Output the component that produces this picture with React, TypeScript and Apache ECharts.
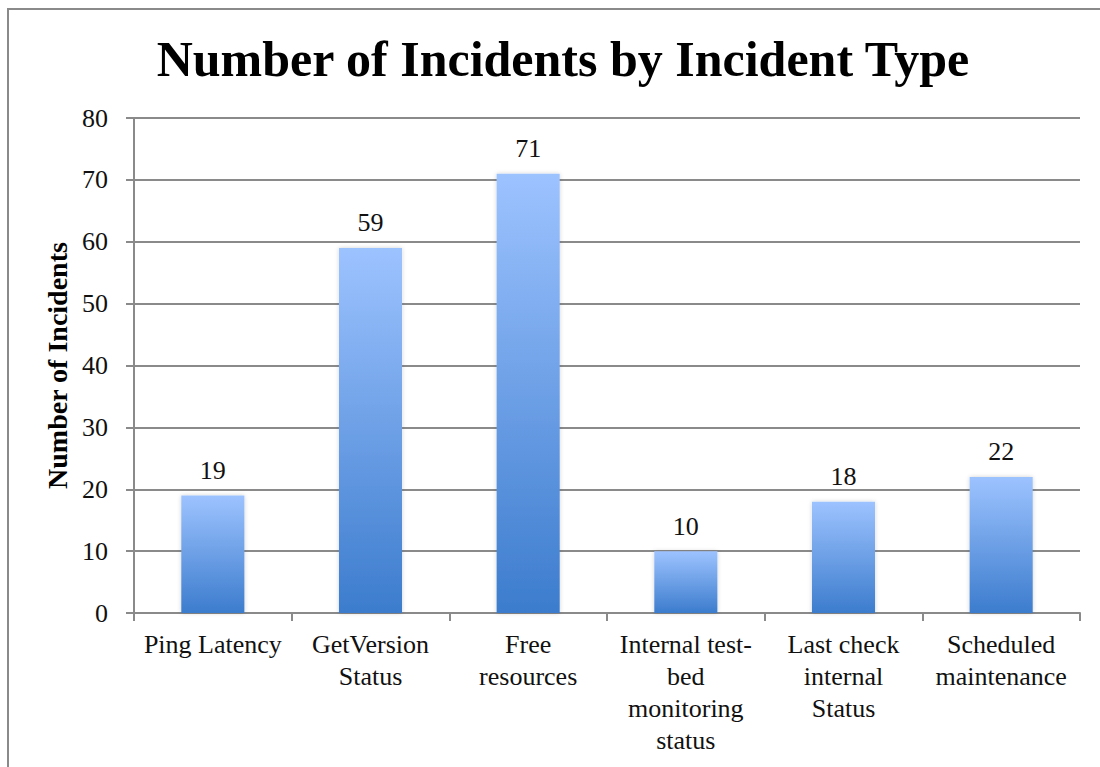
import React, { useEffect, useRef } from "react";
import * as echarts from "echarts";

const categories = [
  "Ping Latency",
  "GetVersion\nStatus",
  "Free\nresources",
  "Internal test-\nbed\nmonitoring\nstatus",
  "Last check\ninternal\nStatus",
  "Scheduled\nmaintenance",
];
const incidents = [19, 59, 71, 10, 18, 22];
const yTicks = { min: 0, max: 80, interval: 10 };

const SERIF = "'Liberation Serif', 'DejaVu Serif', serif";

export default function App() {
  const ref = useRef<HTMLDivElement>(null);

  useEffect(() => {
    if (!ref.current) return;
    const chart = echarts.init(ref.current, null, { renderer: "svg" });
    chart.setOption({
      animation: false,
      backgroundColor: "#ffffff",
      title: {
        text: "Number of Incidents by Incident Type",
        left: 558,
        top: 29,
        textAlign: "center",
        textStyle: {
          fontFamily: SERIF,
          fontWeight: "bold",
          fontSize: 50,
          color: "#000",
        },
      },
      graphic: [
        {
          type: "rect",
          shape: { x: 8, y: 9, width: 1200, height: 900 },
          style: { fill: "none", stroke: "#8a8a8a", lineWidth: 2 },
          silent: true,
          z: -1,
        },
      ],
      grid: { left: 134, right: 20, top: 118, bottom: 154 },
      xAxis: {
        type: "category",
        data: categories,
        axisLine: { show: true, lineStyle: { color: "#8a8a8a", width: 2 } },
        axisTick: { show: true, length: 8, lineStyle: { color: "#8a8a8a", width: 2 } },
        axisLabel: {
          interval: 0,
          margin: 15,
          fontFamily: SERIF,
          fontSize: 26,
          lineHeight: 32,
          color: "#111",
        },
      },
      yAxis: {
        type: "value",
        min: yTicks.min,
        max: yTicks.max,
        interval: yTicks.interval,
        name: "Number of Incidents",
        nameLocation: "middle",
        nameGap: 58,
        nameTextStyle: {
          fontFamily: SERIF,
          fontWeight: "bold",
          fontSize: 28,
          color: "#000",
        },
        axisLine: { show: true, lineStyle: { color: "#8a8a8a", width: 2 } },
        axisTick: { show: true, inside: false, length: 8, lineStyle: { color: "#8a8a8a", width: 2 } },
        splitLine: { show: true, lineStyle: { color: "#8a8a8a", width: 2 } },
        axisLabel: {
          margin: 26,
          fontFamily: SERIF,
          fontSize: 26,
          color: "#111",
        },
      },
      series: [
        {
          type: "bar",
          data: incidents,
          barWidth: "40%",
          itemStyle: {
            color: new echarts.graphic.LinearGradient(0, 0, 0, 1, [
              { offset: 0, color: "#9dc3ff" },
              { offset: 1, color: "#3c7ccd" },
            ]),
            shadowColor: "rgba(0,0,0,0.18)",
            shadowBlur: 4,
          },
          label: {
            show: true,
            position: "top",
            distance: 12,
            fontFamily: SERIF,
            fontSize: 26,
            color: "#111",
          },
        },
      ],
    });
    return () => chart.dispose();
  }, []);

  return (
    <div
      ref={ref}
      style={{ position: "absolute", left: 0, top: 0, width: 1100, height: 767 }}
    />
  );
}
